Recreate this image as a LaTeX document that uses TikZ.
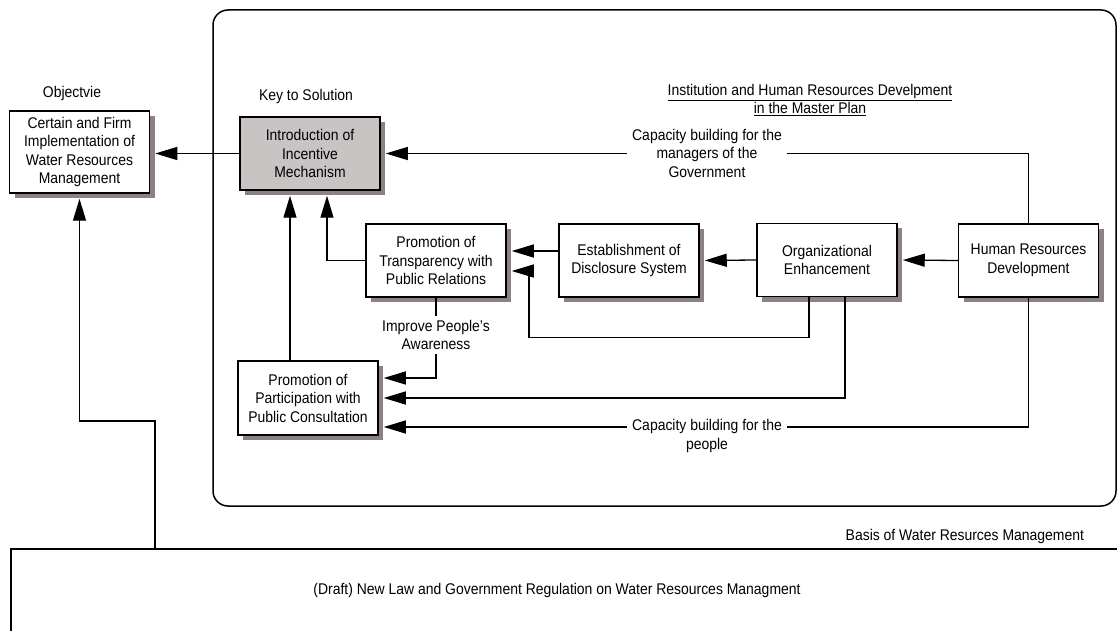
\documentclass[tikz,border=0pt]{standalone}
\usepackage{fontspec}
\setmainfont{Liberation Sans}[FakeStretch=0.9]
\usetikzlibrary{arrows.meta,shadows}

\definecolor{shadowgray}{RGB}{140,130,130}
\definecolor{keygray}{RGB}{200,196,196}

\tikzset{
  box/.style={draw,line width=1.5pt,fill=white,align=center,
    minimum width=140pt,minimum height=73pt,inner sep=2pt,
    drop shadow={shadow xshift=5pt,shadow yshift=-5pt,fill=shadowgray,opacity=1}},
  arr/.style={-{Triangle[length=22pt,width=13pt]},shorten >=5pt},
  tag/.style={fill=white,align=center,inner sep=3pt},
}

\begin{document}
\begin{tikzpicture}[x=1pt,y=-1pt,line width=1.3pt,
    font=\fontsize{15.5}{18.5}\selectfont]
  \useasboundingbox (0,0) rectangle (1117,631);

  % frames
  \draw[line width=1.5pt,rounded corners=15pt] (213,10) rectangle (1116,506);
  \draw[line width=1.5pt] (11,631) -- (11,549) -- (1117,549);

  % titles
  \node[align=center] (plan) at (810,100)
    {\underline{Institution and Human Resources Develpment}\\\underline{in the Master Plan}};
  \node (objtitle) at (72,93) {Objectvie};
  \node (keytitle) at (306,96) {Key to Solution};
  \node[anchor=east] (basis) at (1088,536) {Basis of Water Resurces Management};
  \node (law) at (557,590) {(Draft) New Law and Government Regulation on Water Resources Managment};

  % boxes
  \node[box,minimum height=82pt] (obj) at (79.5,152)
    {Certain and Firm\\Implementation of\\Water Resources\\Management};
  \node[box,fill=keygray] (key) at (310,153.5) {Introduction of\\Incentive\\Mechanism};
  \node[box] (trans) at (436,260.5) {Promotion of\\Transparency with\\Public Relations};
  \node[box] (disc) at (629,260.5) {Establishment of\\Disclosure System};
  \node[box] (org) at (827,260) {Organizational\\Enhancement};
  \node[box] (hr) at (1028.5,260.5) {Human Resources\\Development};
  \node[box,minimum height=74pt] (part) at (308,398)
    {Promotion of\\Participation with\\Public Consultation};

  % connectors
  \draw[arr] (key.west) -- (key.west -| obj.east);
  \draw[arr] (hr.north) |- (key.east);
  \draw[arr] (hr.west) -- (org.east);
  \draw[arr] (org.west) -- (disc.east);
  \draw[arr] ([yshift=9.5pt]disc.west) -- ([yshift=9.5pt]trans.east);
  \draw[arr] (trans.west) -| ([xshift=17pt]key.south);
  \draw[arr] ([xshift=-20pt]key.south |- part.north) -- ([xshift=-20pt]key.south);
  \draw[arr] ([xshift=-18pt]org.south) -- ++(0,40) -- ++(-280,0) |- ([yshift=-10.5pt]trans.east);
  \draw[arr] ([xshift=18pt]org.south) |- (part.east);
  \draw[arr] (hr.south) |- ([yshift=-29pt]part.east);

  \node[tag] (aware) at (436,335) {Improve People's\\Awareness};
  \draw (trans.south) -- (aware);
  \draw[arr] (aware) |- ([yshift=20pt]part.east);

  \coordinate (lawtop) at (155,549);
  \draw[arr] (lawtop) -- ++(0,-128) -| (obj.south);

  % labels on the lines
  \node[tag,inner xsep=5pt] (govcap) at (707,153)
    {Capacity building for the\\managers of the\\Government};
  \node[tag,inner xsep=5pt] (peoplecap) at (707,436)
    {Capacity building for the\\people};
\end{tikzpicture}
\end{document}
